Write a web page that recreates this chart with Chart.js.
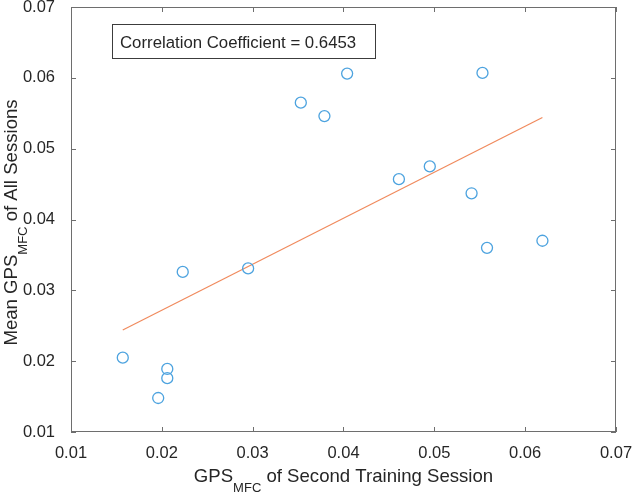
<!DOCTYPE html>
<html>
<head>
<meta charset="utf-8">
<script src="https://cdn.jsdelivr.net/npm/chart.js@4"></script>
<style>
    html, body { margin: 0; padding: 0; background: #fff; }
    #wrap { width: 633px; height: 493px; }
</style>
</head>
<body>
<div id="wrap"><canvas id="chart"></canvas></div>
<script>
// values
const secondSession = [0.0157, 0.0206, 0.0206, 0.0196, 0.0223, 0.0295, 0.0353, 0.0379, 0.0404, 0.0461, 0.0495, 0.0541, 0.0553, 0.0558, 0.0619];
const allSessions = [0.0205, 0.0189, 0.0176, 0.0148, 0.0326, 0.0331, 0.0565, 0.0546, 0.0606, 0.0457, 0.0475, 0.0437, 0.0607, 0.0360, 0.0370];
const fitX = [0.0157, 0.0619];
const fitY = [0.0244, 0.0544];
const tickValues = [0.01, 0.02, 0.03, 0.04, 0.05, 0.06, 0.07];
const annotation = 'Correlation Coefficient = 0.6453';

const FONT = '"Liberation Sans", Arial, sans-serif';
const TEXT = '#262626';
const AXIS = '#6e6e6e';

// MATLAB-ish box: border + inward ticks on all four sides, titles with subscripts
const matlabAxes = {
    id: 'matlabAxes',
    afterDraw(chart) {
        const { ctx, scales } = chart;
        const left = Math.round(scales.x.getPixelForValue(0.01));
        const right = Math.round(scales.x.getPixelForValue(0.07));
        const top = Math.round(scales.y.getPixelForValue(0.07));
        const bottom = Math.round(scales.y.getPixelForValue(0.01));
        ctx.save();
        ctx.strokeStyle = AXIS;
        ctx.lineWidth = 1;
        ctx.strokeRect(left + 0.5, top + 0.5, right - left - 1, bottom - top - 1);

        const len = 5;
        ctx.beginPath();
        tickValues.forEach(v => {
            const px = Math.round(scales.x.getPixelForValue(v)) + 0.5;
            ctx.moveTo(px, bottom); ctx.lineTo(px, bottom - len);
            ctx.moveTo(px, top); ctx.lineTo(px, top + len);
            const py = Math.round(scales.y.getPixelForValue(v)) + 0.5;
            ctx.moveTo(left, py); ctx.lineTo(left + len, py);
            ctx.moveTo(right, py); ctx.lineTo(right - len, py);
        });
        ctx.stroke();

        // annotation box
        const bx = 112, by = 24, bw = 263, bh = 34;
        ctx.fillStyle = '#fff';
        ctx.fillRect(bx, by, bw, bh);
        ctx.strokeStyle = '#3c3c3c';
        ctx.strokeRect(bx + 0.5, by + 0.5, bw, bh);
        ctx.fillStyle = TEXT;
        ctx.font = '16.8px ' + FONT;
        ctx.textBaseline = 'alphabetic';
        ctx.textAlign = 'left';
        ctx.fillText(annotation, 120, 48);

        // axis titles
        drawSubTitle(ctx, 'GPS', 'MFC', ' of Second Training Session', (left + right) / 2, 482);
        ctx.translate(17, (top + bottom) / 2 + 3);
        ctx.rotate(-Math.PI / 2);
        drawSubTitle(ctx, 'Mean GPS', 'MFC', ' of All Sessions', 0, 0);
        ctx.restore();
    }
};

function drawSubTitle(ctx, pre, sub, post, cx, baseY) {
    const big = '18.6px ' + FONT, small = '13px ' + FONT;
    ctx.font = big;
    const w1 = ctx.measureText(pre).width;
    const w3 = ctx.measureText(post).width;
    ctx.font = small;
    const w2 = ctx.measureText(sub).width;
    let x = cx - (w1 + w2 + w3) / 2;
    ctx.fillStyle = TEXT;
    ctx.textAlign = 'left';
    ctx.textBaseline = 'alphabetic';
    ctx.font = big;
    ctx.fillText(pre, x, baseY);
    x += w1;
    ctx.font = small;
    ctx.fillText(sub, x, baseY + 10);
    x += w2;
    ctx.font = big;
    ctx.fillText(post, x, baseY);
}

const tickOpts = {
    color: TEXT,
    font: { family: FONT, size: 16.5 },
    callback: v => Number(v).toFixed(2),
    autoSkip: false,
    maxRotation: 0
};

new Chart(document.getElementById('chart'), {
    type: 'scatter',
    data: {
        datasets: [
            {
                label: 'sessions',
                data: secondSession.map((x, i) => ({ x, y: allSessions[i] })),
                pointStyle: 'circle',
                pointRadius: 5.5,
                pointBorderWidth: 1.3,
                borderColor: '#4da3df',
                backgroundColor: 'rgba(0,0,0,0)',
                showLine: false
            },
            {
                label: 'fit',
                data: fitX.map((x, i) => ({ x, y: fitY[i] })),
                showLine: true,
                borderColor: '#f08a5d',
                borderWidth: 1.2,
                pointRadius: 0
            }
        ]
    },
    options: {
        responsive: true,
        maintainAspectRatio: false,
        animation: false,
        layout: { padding: { top: 7, right: 17, left: 0, bottom: 0 } },
        plugins: {
            legend: { display: false },
            tooltip: { enabled: false }
        },
        scales: {
            x: {
                type: 'linear',
                min: 0.01,
                max: 0.07,
                grid: { display: false },
                border: { display: false },
                ticks: { ...tickOpts, stepSize: 0.01, padding: 4 },
                afterFit: s => { s.height = 61; s.paddingLeft = 0; s.paddingRight = 0; }
            },
            y: {
                type: 'linear',
                min: 0.01,
                max: 0.07,
                grid: { display: false },
                border: { display: false },
                ticks: { ...tickOpts, stepSize: 0.01, padding: 8 },
                afterFit: s => { s.width = 71; s.paddingTop = 0; s.paddingBottom = 0; }
            }
        }
    },
    plugins: [matlabAxes]
});
</script>
</body>
</html>
